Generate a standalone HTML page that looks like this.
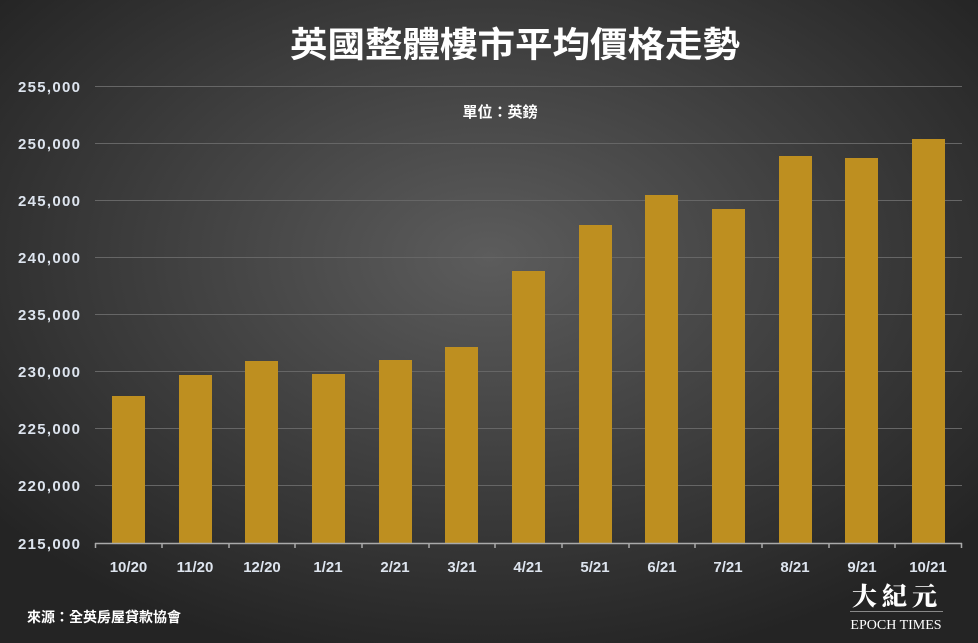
<!DOCTYPE html><html><head><meta charset="utf-8"><style>
body{margin:0;width:978px;height:643px;overflow:hidden;background:#2a2a2a}
</style></head><body>
<svg width="978" height="643" xmlns="http://www.w3.org/2000/svg" style="display:block">
<defs><radialGradient id="g" cx="50%" cy="40%" r="65%"><stop offset="0" stop-color="#5c5c5c"/><stop offset="1" stop-color="#242424"/></radialGradient></defs>
<rect width="978" height="643" fill="url(#g)"/>
<text x="515" y="57" text-anchor="middle" font-family="Liberation Sans,Noto Sans CJK TC,sans-serif" font-size="35" font-weight="bold" fill="#fff" textLength="450" lengthAdjust="spacingAndGlyphs">英國整體樓市平均價格走勢</text>
<text x="500" y="117" text-anchor="middle" font-family="Liberation Sans,Noto Sans CJK TC,sans-serif" font-size="15" font-weight="bold" fill="#fff">單位：英鎊</text>
<g stroke="#666" stroke-width="1">
<line x1="95" x2="962" y1="86.5" y2="86.5"/><line x1="95" x2="962" y1="143.5" y2="143.5"/><line x1="95" x2="962" y1="200.5" y2="200.5"/><line x1="95" x2="962" y1="257.5" y2="257.5"/><line x1="95" x2="962" y1="314.5" y2="314.5"/><line x1="95" x2="962" y1="371.5" y2="371.5"/><line x1="95" x2="962" y1="428.5" y2="428.5"/><line x1="95" x2="962" y1="485.5" y2="485.5"/>
</g>
<g font-family="Liberation Sans,sans-serif" font-size="15" font-weight="bold" fill="#dde4ee" text-anchor="end">
<text x="80" y="92" textLength="62">255,000</text><text x="80" y="149" textLength="62">250,000</text><text x="80" y="206" textLength="62">245,000</text><text x="80" y="263" textLength="62">240,000</text><text x="80" y="320" textLength="62">235,000</text><text x="80" y="377" textLength="62">230,000</text><text x="80" y="434" textLength="62">225,000</text><text x="80" y="491" textLength="62">220,000</text><text x="80" y="549" textLength="62">215,000</text>
</g>
<g fill="#be8f20">
<rect x="112" y="396" width="33" height="147"/><rect x="179" y="375" width="33" height="168"/><rect x="245" y="361" width="33" height="182"/><rect x="312" y="374" width="33" height="169"/><rect x="379" y="360" width="33" height="183"/><rect x="445" y="347" width="33" height="196"/><rect x="512" y="271" width="33" height="272"/><rect x="579" y="225" width="33" height="318"/><rect x="645" y="195" width="33" height="348"/><rect x="712" y="209" width="33" height="334"/><rect x="779" y="156" width="33" height="387"/><rect x="845" y="158" width="33" height="385"/><rect x="912" y="139" width="33" height="404"/>
</g>
<g stroke="#aaa" stroke-width="1.5">
<line x1="95" x2="962" y1="543.5" y2="543.5"/>
<line x1="95.5" x2="95.5" y1="543" y2="548"/><line x1="162" x2="162" y1="543" y2="548"/><line x1="229" x2="229" y1="543" y2="548"/><line x1="295" x2="295" y1="543" y2="548"/><line x1="362" x2="362" y1="543" y2="548"/><line x1="429" x2="429" y1="543" y2="548"/><line x1="495" x2="495" y1="543" y2="548"/><line x1="562" x2="562" y1="543" y2="548"/><line x1="629" x2="629" y1="543" y2="548"/><line x1="695" x2="695" y1="543" y2="548"/><line x1="762" x2="762" y1="543" y2="548"/><line x1="829" x2="829" y1="543" y2="548"/><line x1="895" x2="895" y1="543" y2="548"/><line x1="961.5" x2="961.5" y1="543" y2="548"/>
</g>
<g font-family="Liberation Sans,sans-serif" font-size="15" font-weight="bold" fill="#dde4ee" text-anchor="middle">
<text x="128.5" y="572">10/20</text><text x="195" y="572">11/20</text><text x="262" y="572">12/20</text><text x="328" y="572">1/21</text><text x="395" y="572">2/21</text><text x="462" y="572">3/21</text><text x="528" y="572">4/21</text><text x="595" y="572">5/21</text><text x="662" y="572">6/21</text><text x="728" y="572">7/21</text><text x="795" y="572">8/21</text><text x="862" y="572">9/21</text><text x="928" y="572">10/21</text>
</g>
<text x="27" y="622" font-family="Liberation Sans,Noto Sans CJK TC,sans-serif" font-size="14" font-weight="bold" fill="#fff">來源：全英房屋貸款協會</text>
<text x="897" y="605" text-anchor="middle" font-family="Noto Serif CJK SC,serif" font-size="25" font-weight="900" fill="#fff" letter-spacing="5">大紀元</text>
<line x1="850" x2="943" y1="611.5" y2="611.5" stroke="#888" stroke-width="1"/>
<text x="896" y="629" text-anchor="middle" font-family="Liberation Serif,serif" font-size="14" fill="#fff">EPOCH TIMES</text>
</svg>
</body></html>
